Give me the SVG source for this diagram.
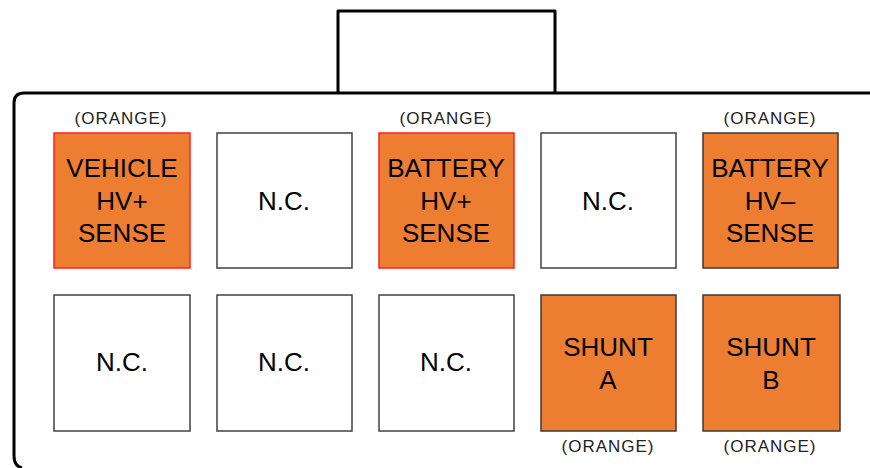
<svg xmlns="http://www.w3.org/2000/svg" width="870" height="468" viewBox="0 0 870 468">
<style>
.shell{fill:none;stroke:#000;stroke-width:3;stroke-linejoin:round}
.org{fill:#ED7D31;stroke:#3a3a3a;stroke-width:1.5}
.orgr{fill:#ED7D31;stroke:#FF2020;stroke-width:1.5}
.wht{fill:#fff;stroke:#404040;stroke-width:1.5}
.t{font-family:"Liberation Sans",Arial,sans-serif;font-size:26px;fill:#000;text-anchor:middle}
.lbl{font-family:"Liberation Sans",Arial,sans-serif;font-size:17px;letter-spacing:1px;fill:#222;text-anchor:middle}
</style>
<rect width="870" height="468" fill="#fff"/>
<g id="housing">
<path class="shell" d="M870 93 H24 Q14 93 14 103 V456 Q14 466 22 468"/>
<path class="shell" d="M338 93 V11 H555 V93"/>
</g>
<g id="pin1"><rect class="orgr" x="54" y="133" width="136" height="135"/><text class="lbl" x="121" y="124">(ORANGE)</text><text class="t" x="122" y="177">VEHICLE</text><text class="t" x="122" y="210">HV+</text><text class="t" x="122" y="242">SENSE</text></g>
<g id="pin2"><rect class="wht" x="217" y="133" width="135" height="135"/><text class="t" x="284" y="210">N.C.</text></g>
<g id="pin3"><rect class="orgr" x="379" y="133" width="135" height="135"/><text class="lbl" x="446" y="124">(ORANGE)</text><text class="t" x="446" y="177">BATTERY</text><text class="t" x="446" y="210">HV+</text><text class="t" x="446" y="242">SENSE</text></g>
<g id="pin4"><rect class="wht" x="541" y="133" width="135" height="135"/><text class="t" x="608" y="210">N.C.</text></g>
<g id="pin5"><rect class="org" x="703" y="133" width="135" height="135"/><text class="lbl" x="770" y="124">(ORANGE)</text><text class="t" x="770" y="177">BATTERY</text><text class="t" x="770" y="210">HV–</text><text class="t" x="770" y="242">SENSE</text></g>
<g id="pin6"><rect class="wht" x="54" y="295" width="136" height="136"/><text class="t" x="122" y="371">N.C.</text></g>
<g id="pin7"><rect class="wht" x="217" y="295" width="135" height="136"/><text class="t" x="284" y="371">N.C.</text></g>
<g id="pin8"><rect class="wht" x="379" y="295" width="135" height="136"/><text class="t" x="446" y="371">N.C.</text></g>
<g id="pin9"><rect class="org" x="541" y="295" width="135" height="136"/><text class="t" x="608" y="356">SHUNT</text><text class="t" x="608" y="389">A</text><text class="lbl" x="608" y="452">(ORANGE)</text></g>
<g id="pin10"><rect class="org" x="703" y="295" width="137" height="136"/><text class="t" x="771" y="356">SHUNT</text><text class="t" x="771" y="389">B</text><text class="lbl" x="770" y="452">(ORANGE)</text></g>
<g id="connectors"/>
</svg>
